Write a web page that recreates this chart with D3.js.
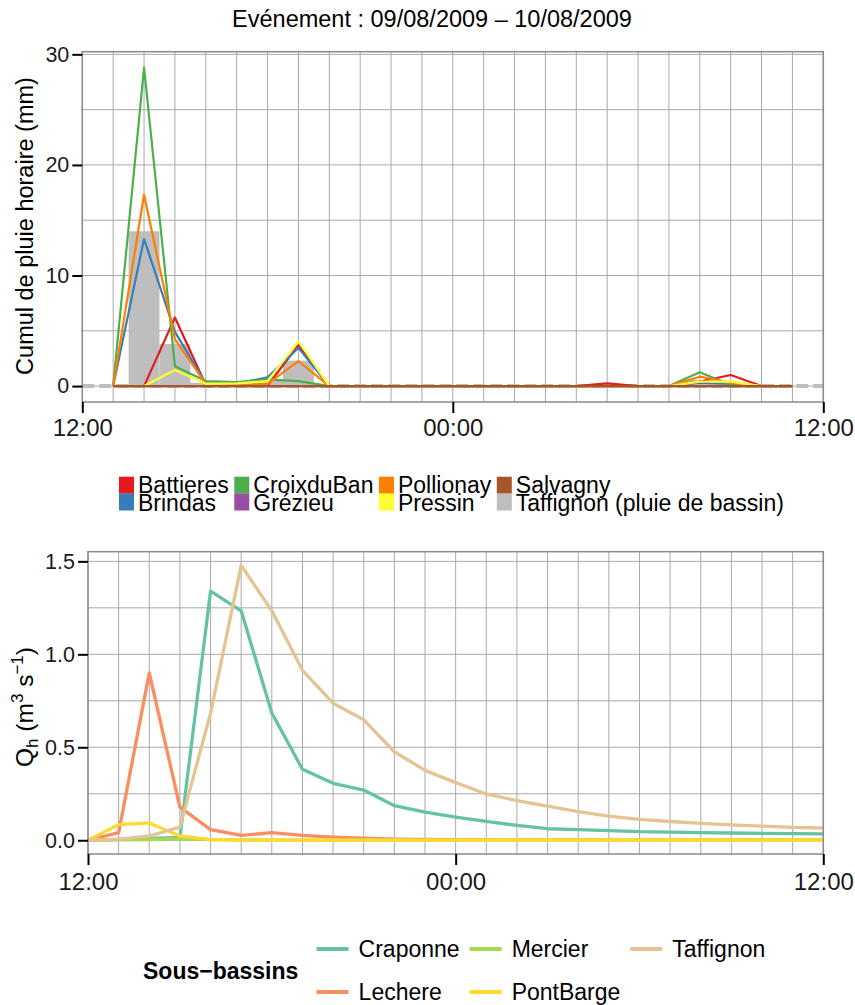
<!DOCTYPE html>
<html><head><meta charset="utf-8">
<script src="https://cdn.jsdelivr.net/npm/d3@7"></script>
<style>body{margin:0;background:#fff}svg{display:block;font-family:"Liberation Sans",Arial,Helvetica,sans-serif}</style>
</head><body><svg id="c" width="855" height="1005"></svg>
<script>
// ---------------- DATA ----------------
const chartTitle = "Evénement : 09/08/2009 – 10/08/2009";
const rainTimes = ["2009-08-09 13:00","2009-08-09 14:00","2009-08-09 15:00","2009-08-09 16:00","2009-08-09 17:00","2009-08-09 18:00","2009-08-09 19:00","2009-08-09 20:00","2009-08-09 21:00","2009-08-09 22:00","2009-08-09 23:00","2009-08-10 00:00","2009-08-10 01:00","2009-08-10 02:00","2009-08-10 03:00","2009-08-10 04:00","2009-08-10 05:00","2009-08-10 06:00","2009-08-10 07:00","2009-08-10 08:00","2009-08-10 09:00","2009-08-10 10:00","2009-08-10 11:00"];
const rainSeries = ["Battieres","Brindas","CroixduBan","Grézieu","Pollionay","Pressin","Salvagny"];
const rainColors = ["#E41A1C","#377EB8","#4DAF4A","#984EA3","#FF7F00","#FFFF33","#A65628"];
const battieres  = [0, 0,    6.2, 0.1,  0.1, 0.05, 3.7,  0,0,0,0,0,0,0,0,0, 0.25,0, 0, 0.4,  1.0, 0, 0];
const brindas    = [0, 13.3, 4.9, 0.25, 0.2, 0.8,  3.45, 0,0,0,0,0,0,0,0,0, 0,   0, 0, 0.3,  0.2, 0, 0];
const croixduban = [0, 28.8, 1.8, 0.45, 0.35,0.6,  0.45, 0,0,0,0,0,0,0,0,0, 0,   0, 0, 1.25, 0.1, 0, 0];
const grezieu    = [0, 0,    0,   0,    0,   0,    0,    0,0,0,0,0,0,0,0,0, 0,   0, 0, 0,    0,   0, 0];
const pollionay  = [0, 17.3, 4.25,0.2,  0.1, 0.2,  2.25, 0,0,0,0,0,0,0,0,0, 0,   0, 0, 0.85, 0.3, 0, 0];
const pressin    = [0, 0,    1.45,0.2,  0.25,0.45, 4.05, 0,0,0,0,0,0,0,0,0, 0,   0, 0, 0.4,  0.4, 0, 0];
const salvagny   = [0, 0,    0,   0,    0,   0,    0,    0,0,0,0,0,0,0,0,0, 0,   0, 0, 0,    0,   0, 0];
const basinLabel = "Taffignon (pluie de bassin)";
const basinColor = "#BEBEBE";
const basinRain  = [0, 14.0, 3.8, 0.3,  0.15,0.5,  2.3,  0,0,0,0,0,0,0,0,0, 0.05,0, 0, 0.55, 0.35,0, 0];
const rainTickLabels = [0, 10, 20, 30];
const rainGridValues = [0, 5, 10, 15, 20, 25, 30];
const rainYLabel = "Cumul de pluie horaire (mm)";

const flowTimes = ["2009-08-09 12:00","2009-08-09 13:00","2009-08-09 14:00","2009-08-09 15:00","2009-08-09 16:00","2009-08-09 17:00","2009-08-09 18:00","2009-08-09 19:00","2009-08-09 20:00","2009-08-09 21:00","2009-08-09 22:00","2009-08-09 23:00","2009-08-10 00:00","2009-08-10 01:00","2009-08-10 02:00","2009-08-10 03:00","2009-08-10 04:00","2009-08-10 05:00","2009-08-10 06:00","2009-08-10 07:00","2009-08-10 08:00","2009-08-10 09:00","2009-08-10 10:00","2009-08-10 11:00","2009-08-10 12:00"];
const flowSeries = ["Craponne","Lechere","Mercier","PontBarge","Taffignon"];
const flowColors = ["#66C2A5","#FC8D62","#A6D854","#FFD92F","#E5C494"];
const craponne  = [0, 0.005, 0.01, 0.015, 1.34, 1.234, 0.684, 0.382, 0.306, 0.27, 0.186, 0.151, 0.125, 0.101, 0.08, 0.062, 0.057, 0.052, 0.046, 0.044, 0.041, 0.039, 0.037, 0.036, 0.034];
const lechere   = [0, 0.041, 0.90, 0.178, 0.057, 0.026, 0.041, 0.026, 0.017, 0.011, 0.006, 0.004, 0.003, 0.002, 0.001, 0.001, 0.001, 0, 0, 0, 0, 0, 0, 0, 0];
const mercier   = [0, 0.002, 0.004, 0.008, 0.003, 0.002, 0.001, 0, 0, 0, 0, 0, 0, 0, 0, 0, 0, 0, 0, 0, 0, 0, 0, 0, 0];
const pontbarge = [0, 0.084, 0.093, 0.023, 0.003, 0.001, 0, 0, 0, 0, 0, 0, 0, 0, 0, 0, 0, 0, 0, 0, 0, 0, 0, 0, 0];
const taffignon = [0, 0.005, 0.023, 0.071, 0.684, 1.478, 1.234, 0.914, 0.737, 0.648, 0.476, 0.376, 0.31, 0.249, 0.213, 0.183, 0.154, 0.130, 0.112, 0.101, 0.091, 0.083, 0.076, 0.069, 0.066];
const flowTickLabels = [0, 0.5, 1.0, 1.5];
const flowGridValues = [0, 0.25, 0.5, 0.75, 1.0, 1.25, 1.5];
const flowLegendTitle = "Sous\u2212bassins";
const timeTicks = ["2009-08-09 12:00","2009-08-10 00:00","2009-08-10 12:00"];

// ---------------- SETUP ----------------
const parse = d3.timeParse("%Y-%m-%d %H:%M");
const svg = d3.select("#c");
const FS_XTICK = 24, FS_YTICK = 21.5, FS_TXT = 23;
const gridColor = "#a9a9a9", borderColor = "#8a8a8a";
const tStart = parse(timeTicks[0]), tEnd = parse(timeTicks[2]);
const hourLines = d3.timeHour.range(tStart, d3.timeHour.offset(tEnd, 1));

svg.append("text").attr("x", 432).attr("y", 26.5).attr("text-anchor", "middle")
  .attr("font-size", 23.5).attr("fill", "#000").text(chartTitle);

function panel(g, x, y, gridY) {
  const [x0, x1] = x.range(), [y0, y1] = y.range();
  g.append("rect").attr("x", x0).attr("y", y1).attr("width", x1 - x0).attr("height", y0 - y1).attr("fill", "#fff");
  g.selectAll(".gy").data(gridY).join("line").attr("x1", x0).attr("x2", x1)
    .attr("y1", d => y(d)).attr("y2", d => y(d)).attr("stroke", gridColor).attr("stroke-width", 1);
  g.selectAll(".gx").data(hourLines).join("line").attr("y1", y0).attr("y2", y1)
    .attr("x1", d => x(d)).attr("x2", d => x(d)).attr("stroke", gridColor).attr("stroke-width", 1);
}
function border(g, x, y) {
  const [x0, x1] = x.range(), [y0, y1] = y.range();
  g.append("rect").attr("x", x0).attr("y", y1).attr("width", x1 - x0).attr("height", y0 - y1)
    .attr("fill", "none").attr("stroke", borderColor).attr("stroke-width", 1.5);
}
function axes(g, x, y, yTicks, yFmt, labelDy) {
  const [x0] = x.range(), [y0] = y.range();
  const ax = g.append("g").attr("transform", `translate(0,${y0})`)
    .call(d3.axisBottom(x).tickValues(timeTicks.map(parse)).tickFormat(d3.timeFormat("%H:%M")).tickSize(11).tickPadding(labelDy));
  const ay = g.append("g").attr("transform", `translate(${x0},0)`)
    .call(d3.axisLeft(y).tickValues(yTicks).tickFormat(yFmt).tickSize(10).tickPadding(3));
  [ax, ay].forEach((a, i) => {
    a.select(".domain").remove();
    a.selectAll(".tick line").attr("stroke", "#000").attr("stroke-width", 2);
    a.selectAll(".tick text").attr("font-size", i === 0 ? FS_XTICK : FS_YTICK).attr("fill", "#1a1a1a")
      .attr("font-family", "Liberation Sans, Arial, sans-serif");
  });
}

// ---------------- TOP CHART ----------------
const rainData = [battieres, brindas, croixduban, grezieu, pollionay, pressin, salvagny];
const rT = rainTimes.map(parse);
const rainMax = d3.max([...rainData.flat(), ...basinRain]);
const xR = d3.scaleTime().domain([tStart, tEnd]).range([82.3, 823.3]);
const yR = d3.scaleLinear().domain([-0.05 * rainMax, 1.05 * rainMax]).range([402, 51.7]);
const gR = svg.append("g");
panel(gR, xR, yR, rainGridValues);
gR.selectAll(".bar").data(basinRain.map((v, i) => ({t: rT[i], v}))).join("rect")
  .attr("x", d => xR(d3.timeMinute.offset(d.t, -30)))
  .attr("width", d => xR(d3.timeMinute.offset(d.t, 30)) - xR(d3.timeMinute.offset(d.t, -30)))
  .attr("y", d => yR(d.v)).attr("height", d => yR(0) - yR(d.v)).attr("fill", basinColor);
gR.append("line").attr("x1", xR.range()[0]).attr("x2", xR.range()[1]).attr("y1", yR(0)).attr("y2", yR(0))
  .attr("stroke", basinColor).attr("stroke-width", 4).attr("stroke-dasharray", "12,5");
const lineR = d3.line().x((d, i) => xR(rT[i])).y(d => yR(d));
rainData.forEach((s, k) => {
  gR.append("path").attr("d", lineR(s)).attr("fill", "none").attr("stroke", rainColors[k])
    .attr("stroke-width", 2.2).attr("stroke-linejoin", "round");
});
border(gR, xR, yR);
axes(gR, xR, yR, rainTickLabels, d3.format("d"), 6);
svg.append("text").attr("transform", `translate(33,226) rotate(-90)`).attr("text-anchor", "middle")
  .attr("font-size", 23.5).text(rainYLabel);

// top legend
{
  const items = rainSeries.map((n, i) => ({n, c: rainColors[i]})).concat([{n: basinLabel, c: basinColor}]);
  const gl = svg.append("g");
  let x = 119;
  const rowsY = [476.7, 493.5], keyH = 17, base = [493.3, 510.5];
  for (let c = 0; c < 4; c++) {
    let w = 0;
    for (let r = 0; r < 2; r++) {
      const it = items[c * 2 + r];
      gl.append("rect").attr("x", x).attr("y", rowsY[r]).attr("width", 15).attr("height", keyH).attr("fill", it.c);
      const t = gl.append("text").attr("x", x + 19).attr("y", base[r]).attr("font-size", FS_TXT).text(it.n);
      w = Math.max(w, t.node().getComputedTextLength());
    }
    x = x + 19 + w + 5.5;
  }
}

// ---------------- BOTTOM CHART ----------------
const flowData = [craponne, lechere, mercier, pontbarge, taffignon];
const fT = flowTimes.map(parse);
const flowMax = d3.max(flowData.flat());
const xF = d3.scaleTime().domain([tStart, tEnd]).range([88, 823.3]);
const yF = d3.scaleLinear().domain([-0.05 * flowMax, 1.05 * flowMax]).range([854, 551.7]);
const gF = svg.append("g");
panel(gF, xF, yF, flowGridValues);
const lineF = d3.line().x((d, i) => xF(fT[i])).y(d => yF(d));
flowData.forEach((s, k) => {
  gF.append("path").attr("d", lineF(s)).attr("fill", "none").attr("stroke", flowColors[k])
    .attr("stroke-width", 3.3).attr("stroke-linejoin", "round");
});
border(gF, xF, yF);
axes(gF, xF, yF, flowTickLabels, d3.format(".1f"), 8);
{
  const t = svg.append("text").attr("transform", `translate(33,707) rotate(-90)`).attr("text-anchor", "middle")
    .attr("font-size", 24.5);
  t.append("tspan").text("Q");
  t.append("tspan").attr("font-size", 17).attr("dy", 5).text("h");
  t.append("tspan").attr("dy", -5).text(" (m");
  t.append("tspan").attr("font-size", 17).attr("dy", -10).text("3");
  t.append("tspan").attr("dy", 10).text(" s");
  t.append("tspan").attr("font-size", 17).attr("dy", -10).text("\u22121");
  t.append("tspan").attr("dy", 10).text(")");
}

// bottom legend
{
  const gl = svg.append("g");
  gl.append("text").attr("x", 143).attr("y", 978.5).attr("font-size", FS_TXT).attr("font-weight", "bold").text(flowLegendTitle);
  const rowsY = [949, 992];
  let x = 316.6;
  for (let c = 0; c < 3; c++) {
    let w = 0;
    for (let r = 0; r < 2; r++) {
      const i = c * 2 + r;
      if (i >= flowSeries.length) continue;
      gl.append("line").attr("x1", x).attr("x2", x + 32).attr("y1", rowsY[r]).attr("y2", rowsY[r])
        .attr("stroke", flowColors[i]).attr("stroke-width", 4);
      const t = gl.append("text").attr("x", x + 42).attr("y", rowsY[r] + 8).attr("font-size", FS_TXT).text(flowSeries[i]);
      w = Math.max(w, t.node().getComputedTextLength());
    }
    x = x + 42 + w + 10;
  }
}
</script></body></html>
